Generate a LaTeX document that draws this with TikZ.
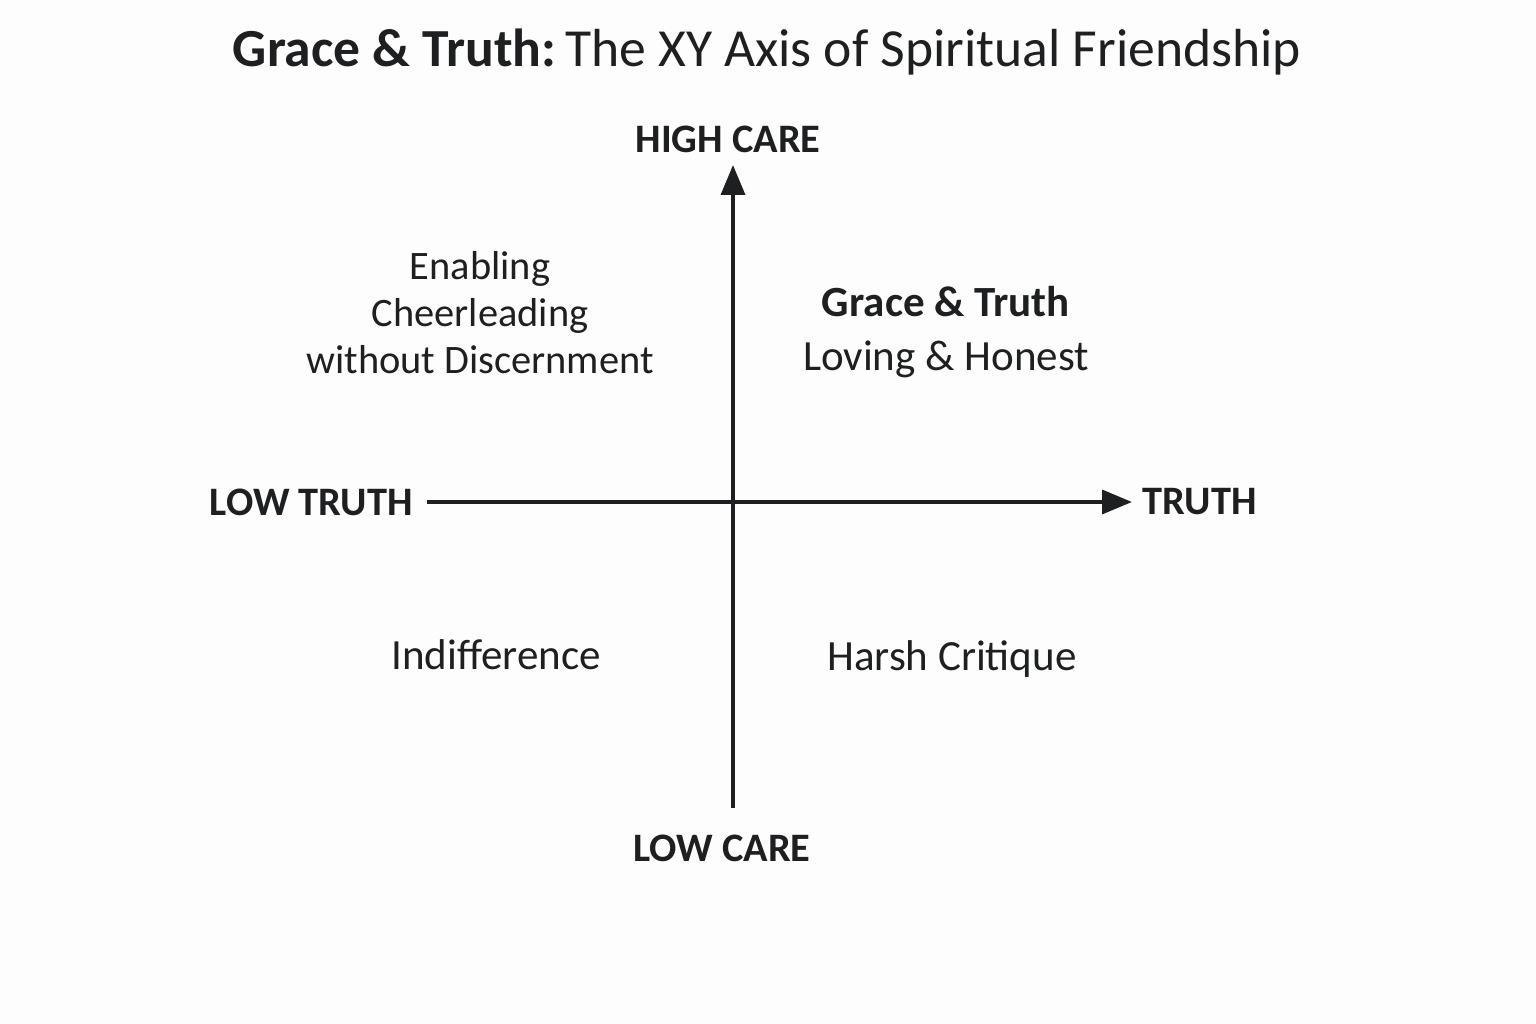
\documentclass[tikz,border=0pt]{standalone}
\usepackage{fontspec}
\setmainfont{Carlito}
\usepackage{xcolor}
\usepackage{tikz}
\usetikzlibrary{arrows.meta,positioning}
\definecolor{ink}{HTML}{1E1F20}
\definecolor{paper}{HTML}{FDFDFD}

\begin{document}
\begin{tikzpicture}[
    x=0.02cm, y=0.02cm,
    axis/.style={draw=ink,line width=2.3pt},
    axtip/.style={-{Triangle[length=17pt,width=13.5pt]}},
    axlab/.style={text=ink,font=\fontsize{23}{27}\selectfont\bfseries,inner sep=0pt},
    quad/.style={text=ink,font=\fontsize{24.5}{31}\selectfont,align=center,inner sep=0pt},
    title/.style={text=ink,font=\fontsize{30.5}{36}\selectfont}
  ]
    \fill[paper] (0,0) rectangle (1536,1024);
    \useasboundingbox (0,0) rectangle (1536,1024);
    % axis ends
    \coordinate (origin) at (733,522);
    \coordinate (caretop) at (733,859);
    \coordinate (carebot) at (733,216);
    \coordinate (truthleft) at (427,522);
    \coordinate (truthright) at (1132,522);
    \node[title] (head) at (767,972) {\textbf{Grace \& Truth:}\,The XY Axis of Spiritual Friendship};
    \node[axlab,above=7pt of caretop,xshift=-5*0.02cm] (highcare) {HIGH CARE};
    \node[axlab,below=15pt of carebot,xshift=-11*0.02cm] (lowcare) {LOW CARE};
    \node[axlab,left=8pt of truthleft] (lowtruth) {LOW TRUTH};
    \node[axlab,right=6pt of truthright] (truth) {TRUTH};
    \node[quad,font=\fontsize{23}{26.7}\selectfont] (enabling) at (480,711) {Enabling\\Cheerleading\\without Discernment};
    \node[quad] (gracetruth) at (946,692) {\textbf{Grace \& Truth}\\Loving \& Honest};
    \node[quad] (indiff) at (496,369) {Indifference};
    \node[quad] (harsh) at (952,365) {Harsh Critique};
    \draw[axis,axtip] (carebot) -- (caretop);
    \draw[axis,axtip] (truthleft) -- (truthright);
  \end{tikzpicture}
\end{document}
